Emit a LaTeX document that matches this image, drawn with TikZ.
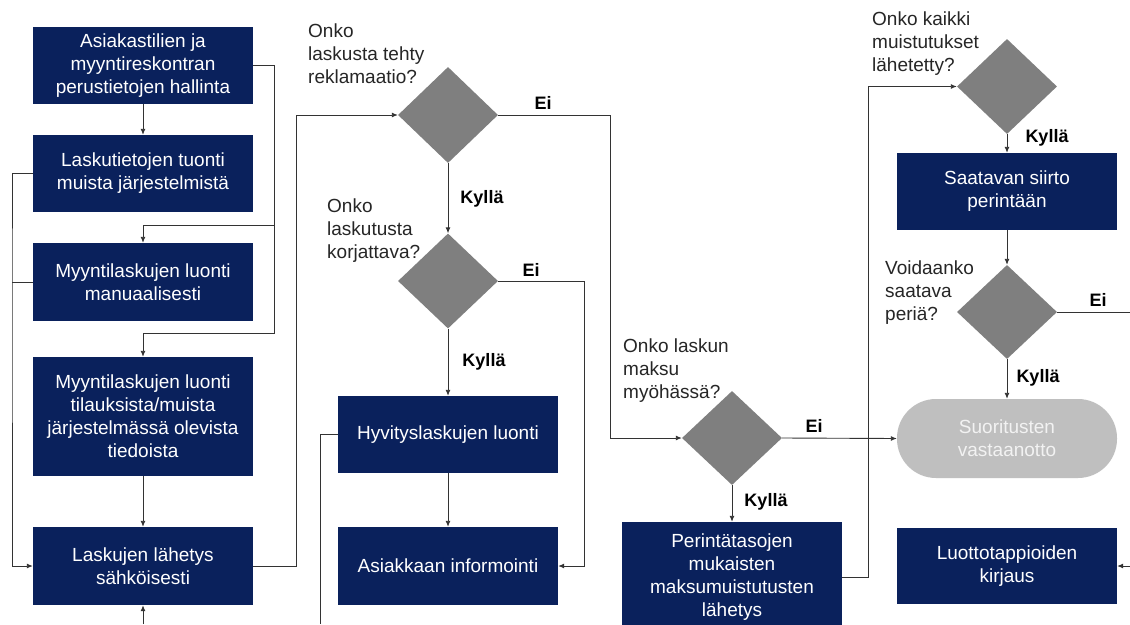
\documentclass[tikz,border=0pt]{standalone}
\usepackage{fontspec}
\setmainfont{Liberation Sans}
\usetikzlibrary{arrows.meta,shapes.geometric}
\definecolor{navy}{HTML}{0A215C}
\definecolor{dgray}{HTML}{7F7F7F}
\definecolor{lgray}{HTML}{BFBFBF}
\definecolor{termtext}{HTML}{F2F2F2}
\definecolor{linec}{HTML}{333333}
\begin{document}
\begin{tikzpicture}[x=1pt,y=-1pt,
  box/.style={rectangle, fill=navy, text=white, minimum width=220pt, minimum height=77pt,
    align=center, inner sep=0pt, font=\fontsize{19}{23}\selectfont},
  term/.style={rectangle, rounded corners=39pt, fill=lgray, text=termtext, minimum width=220pt,
    minimum height=79pt, align=center, inner sep=0pt, font=\fontsize{19}{23}\selectfont},
  dec/.style={diamond, fill=dgray, minimum width=100pt, minimum height=95pt, inner sep=0pt},
  q/.style={anchor=north west, align=left, inner sep=0pt, text=black!85, font=\fontsize{19}{23}\selectfont},
  yn/.style={inner sep=0pt, font=\bfseries\fontsize{18}{22}\selectfont},
  conn/.style={draw=linec, line width=0.9pt},
  arr/.style={conn, -{Latex[length=6pt,width=5pt]}}]
\useasboundingbox (0,0) rectangle (1130,624);
\fill[white] (0,0) rectangle (1130,624);

% left column
\node[box] (B1) at (143,65.5) {Asiakastilien ja\\myyntireskontran\\perustietojen hallinta};
\node[box] (B2) at (143,173.5) {Laskutietojen tuonti\\muista järjestelmistä};
\node[box, minimum height=78pt] (B3) at (143,282) {Myyntilaskujen luonti\\manuaalisesti};
\node[box, minimum height=119pt] (B4) at (143,416.5) {Myyntilaskujen luonti\\tilauksista/muista\\järjestelmässä olevista\\tiedoista};
\node[box, minimum height=78pt] (B5) at (143,566) {Laskujen lähetys\\sähköisesti};

% middle column
\node[dec, minimum height=96pt] (D1) at (448,115) {};
\node[q] (L1) at (308,24) {Onko\\laskusta tehty\\reklamaatio?};
\node[dec] (D2) at (448,281) {};
\node[q] (L2) at (327,199) {Onko\\laskutusta\\korjattava?};
\node[box] (B6) at (448,434.5) {Hyvityslaskujen luonti};
\node[box, minimum height=78pt] (B7) at (448,566) {Asiakkaan informointi};

% third column
\node[dec, minimum height=94pt] (D3) at (732,438) {};
\node[q] (L3) at (623,339) {Onko laskun\\maksu\\myöhässä?};
\node[box, minimum height=110pt] (B8) at (732,577) {Perintätasojen\\mukaisten\\maksumuistutusten\\lähetys};

% right column
\node[dec] (D4) at (1007,86.5) {};
\node[q] (L4) at (872,12) {Onko kaikki\\muistutukset\\lähetetty?};
\node[box] (B9) at (1007,191.5) {Saatavan siirto\\perintään};
\node[dec, minimum height=94pt] (D5) at (1007,312) {};
\node[q] (L5) at (885,261) {Voidaanko\\saatava\\periä?};
\node[term] (T) at (1007,438.5) {Suoritusten\\vastaanotto};
\node[box, minimum height=76pt] (B10) at (1007,566) {Luottotappioiden\\kirjaus};

% helper coordinates
\coordinate (j1) at (274,225);
\coordinate (j2) at (274,333);
\coordinate (jl) at (12,282);
\coordinate (bot1) at (143,624);
\coordinate (k1) at (296,115);
\coordinate (k2) at (610,115);
\coordinate (k3) at (584,281);
\coordinate (k4) at (320,624);
\coordinate (k5) at (868,577);
\coordinate (r1) at (1130,312);
\coordinate (r2) at (1130,566);

% connectors left column
\draw[arr] (B1) -- (B2);
\draw[arr] (B1.east) -| (j2) -| (B4.north);
\draw[arr] (j1) -| (B3.north);
\draw[arr] (B2.west) -| (jl) |- (B5.west);
\draw[conn] (B3.west) -- (jl);
\draw[arr] (B4) -- (B5);
\draw[arr] (bot1) -- (B5.south);
\draw[arr] (B5.east) -| (k1) -- (D1.west);

% middle
\draw[arr] (D1.east) -- (k2) |- (D3.west);
\draw[arr] (D1.south) -- (D2.north);
\draw[arr] (D2.east) -- (k3) |- (B7.east);
\draw[arr] (D2.south) -- (B6.north);
\draw[arr] (B6) -- (B7);
\draw[conn] (B6.west) -| (k4);

% third / right
\draw[arr] (D3.east) -- (T.west);
\draw[arr] (D3.south) -- (B8.north);
\draw[arr] (B8.east) -- (k5) |- (D4.west);
\draw[arr] (D4.south) -- (B9.north);
\draw[arr] (B9.south) -- (D5.north);
\draw[conn] (D5.east) -- (r1);
\draw[arr] (D5.south) -- (T.north);
\draw[arr] (r2) -- (B10.east);

% yes/no labels
\node[yn] (e1) at (543,103) {Ei};
\node[yn] (y1) at (482,199) {Kyllä};
\node[yn] (e2) at (531,270) {Ei};
\node[yn] (y2) at (484,362) {Kyllä};
\node[yn] (e3) at (814,426) {Ei};
\node[yn] (y3) at (766,502) {Kyllä};
\node[yn] (y4) at (1047,138) {Kyllä};
\node[yn] (e5) at (1098,300) {Ei};
\node[yn] (y5) at (1038,378) {Kyllä};
\end{tikzpicture}
\end{document}
